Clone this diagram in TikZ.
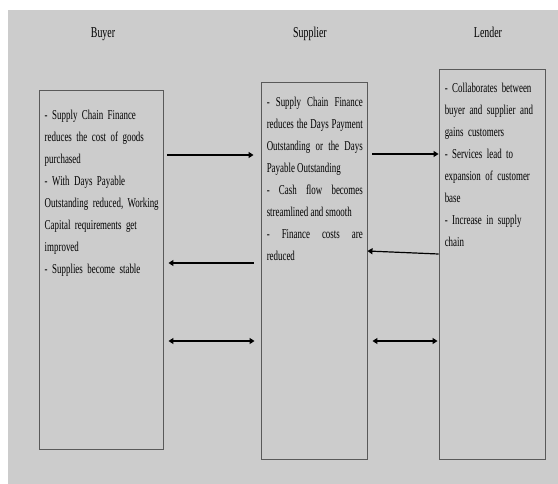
\documentclass[tikz,border=0pt]{standalone}
\usepackage{fontspec}
\setmainfont{Liberation Serif}[FakeStretch=0.66]
\usetikzlibrary{arrows.meta}
\definecolor{bggray}{RGB}{204,204,204}

\begin{document}
\begin{tikzpicture}
[   x=1bp,y=-1bp,
    panel/.style={draw=black!65,line width=0.9bp,inner sep=0pt},
    head/.style={anchor=base,inner sep=0pt,font=\fontsize{15bp}{18bp}\selectfont},
    body/.style={anchor=north west,inner sep=0pt,text width=#1,
        font=\fontsize{13.5bp}{22bp}\selectfont},
    flow/.style={line width=1.2bp,->,>={Triangle[length=5bp,width=6bp]}},
]
    \useasboundingbox (0,0) rectangle (558,484);
    \fill[bggray] (8,10) rectangle (558,484);
    % the three parties
    \foreach \n/\t/\x in {buyer/Buyer/103,supplier/Supplier/310,lender/Lender/488}
    {   \node[head] (\n-hd) at (\x,38) {\t};
    }
    \node[panel,minimum width=124bp,minimum height=359bp] (buyer) at (101,269.5) {};
    \node[panel,minimum width=106bp,minimum height=377bp] (supplier) at (314,270.5) {};
    \node[panel,minimum width=106bp,minimum height=390bp] (lender) at (492,264) {};
    \node[body=120bp,align=left] (buyer-txt) at ([shift={(6,20)}]buyer.north west)
        {- Supply Chain Finance\\ reduces the cost of goods\\ purchased\\
         - With Days Payable\\ Outstanding reduced, Working\\ Capital requirements get\\
         improved\\ - Supplies become stable};
    \node[body=96bp,align=justify] (supplier-txt) at ([shift={(6,15)}]supplier.north west)
        {- Supply Chain Finance\linebreak reduces the Days Payment\linebreak
         Outstanding or the Days\linebreak Payable Outstanding\\
         - Cash flow becomes\linebreak streamlined and smooth\\
         - Finance costs are\linebreak reduced};
    \node[body=96bp,align=left] (lender-txt) at ([shift={(6,14)}]lender.north west)
        {- Collaborates between\\ buyer and supplier and\\ gains customers\\
         - Services lead to\\ expansion of customer\\ base\\
         - Increase in supply\\ chain};
    % connectors
    \draw[flow] ([xshift=4bp]buyer.east |- 0,155) -- ([xshift=-7bp]supplier.west |- 0,155);
    \draw[flow] ([xshift=-7bp]supplier.west |- 0,263) -- ([xshift=5bp]buyer.east |- 0,263);
    \draw[flow] ([xshift=5bp]supplier.east |- 0,154) -- (lender.west |- 0,154);
    \draw[flow] (lender.west |- 0,254) -- (supplier.east |- 0,251);
    \draw[flow,<->] ([xshift=5bp]buyer.east |- 0,341) -- ([xshift=-6bp]supplier.west |- 0,341);
    \draw[flow,<->] ([xshift=5bp]supplier.east |- 0,341) -- ([xshift=-1bp]lender.west |- 0,341);
\end{tikzpicture}
\end{document}
